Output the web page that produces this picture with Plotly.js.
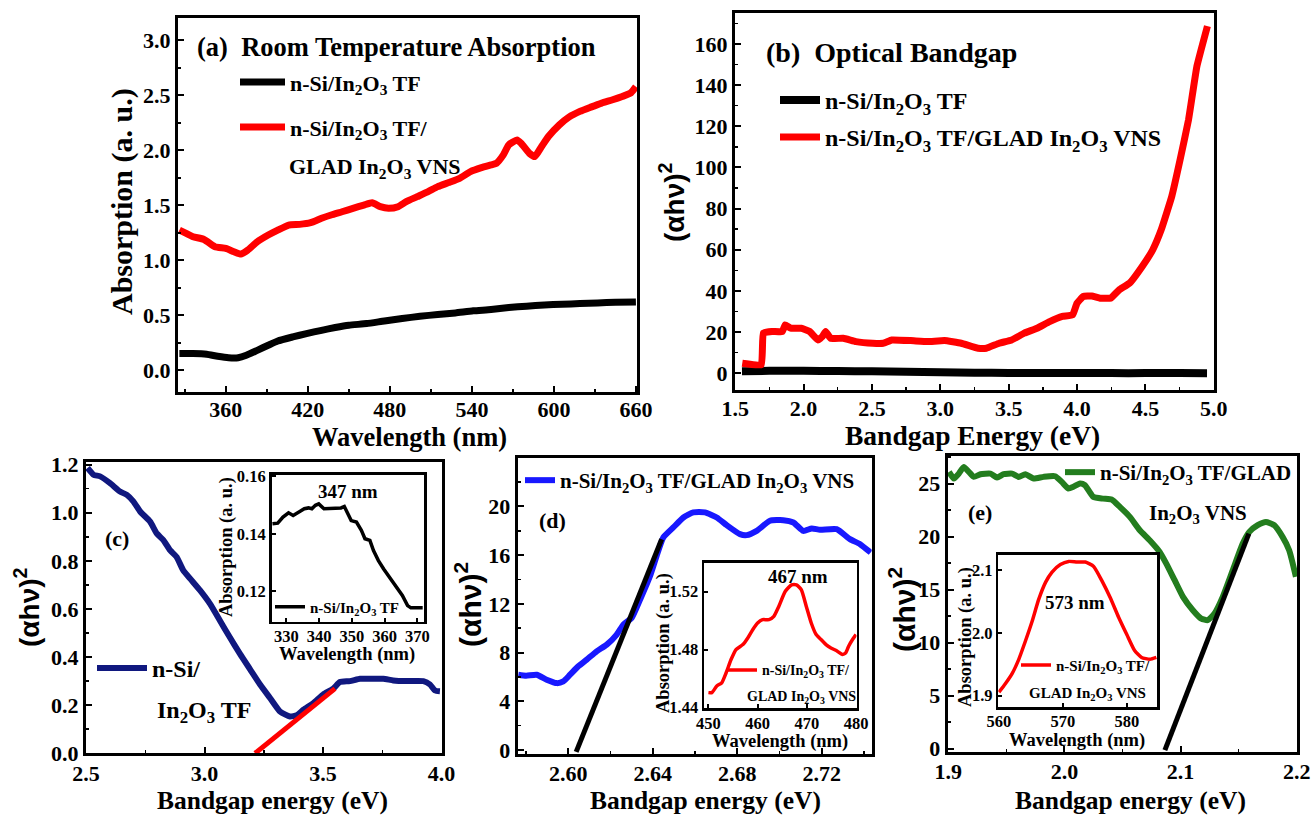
<!DOCTYPE html>
<html><head><meta charset="utf-8">
<script src="https://cdn.plot.ly/plotly-3.0.1.min.js"></script>
<style>html,body{margin:0;padding:0;background:#fff;}#chart{width:1313px;height:816px;}</style>
</head><body><div id="chart"></div>
<script>
// ---------- (a) Room temperature absorption ----------
const aTfWl  = [326,336,346,354,362,369,375,383,391,398,409,419,430,440,450,463,476,489,502,515,528,541,554,567,580,593,606,619,632,645,660];
const aTfAbs = [0.152,0.152,0.146,0.128,0.115,0.115,0.137,0.182,0.228,0.267,0.304,0.334,0.364,0.389,0.41,0.425,0.449,0.471,0.492,0.507,0.522,0.541,0.553,0.571,0.583,0.595,0.601,0.607,0.613,0.619,0.622];
const aVnsWl  = [326,331,336,344,352,360,366,371,376,383,391,398,406,414,422,430,437,445,453,461,467,473,479,486,492,500,508,515,523,531,539,547,554,558,563,567,573,576,582,586,591,596,604,611,619,627,635,643,650,656,660];
const aVnsAbs = [1.275,1.245,1.215,1.19,1.124,1.108,1.078,1.057,1.093,1.169,1.23,1.275,1.321,1.327,1.342,1.382,1.412,1.442,1.473,1.503,1.524,1.488,1.473,1.488,1.534,1.579,1.625,1.670,1.707,1.746,1.807,1.843,1.868,1.883,1.959,2.05,2.095,2.065,1.974,1.944,2.035,2.126,2.232,2.302,2.354,2.393,2.43,2.46,2.49,2.52,2.58];

// ---------- (b) Optical bandgap ----------
const bTfE = [1.55,1.75,2.0,2.25,2.5,2.75,3.0,3.25,3.5,3.75,4.0,4.25,4.5,4.75,4.95];
const bTf  = [1.0,1.2,1.2,1.1,1.0,0.8,0.5,0.3,0.2,0.2,0.2,0.1,0.1,0.1,0.0];
const bVnsE = [1.552,1.691,1.706,1.768,1.845,1.866,1.906,1.983,2.045,2.106,2.137,2.162,2.199,2.291,2.383,2.506,2.583,2.645,2.783,2.907,3.03,3.153,3.276,3.337,3.43,3.522,3.614,3.707,3.799,3.892,3.968,3.999,4.045,4.107,4.169,4.245,4.307,4.384,4.476,4.553,4.615,4.692,4.753,4.815,4.876,4.953];
const bVns  = [4.9,4.1,19.5,20.3,20.3,23.5,21.9,21.9,20.3,16.2,17.8,20.3,17.0,17.0,15.4,14.6,14.6,16.2,15.9,15.4,15.9,14.6,12.2,12.2,14.6,16.2,19.5,21.9,25.1,27.6,28.4,34.0,37.3,37.6,36.5,36.5,40.5,43.8,51.9,60.0,69.7,85.9,103.7,123.2,149.1,168.6];

// ---------- (c) n-Si/In2O3 TF Tauc plot ----------
const cE  = [2.506,2.531,2.559,2.601,2.643,2.672,2.70,2.728,2.77,2.798,2.826,2.854,2.882,2.91,2.939,2.981,3.023,3.065,3.107,3.15,3.192,3.234,3.276,3.318,3.36,3.389,3.417,3.459,3.50,3.543,3.571,3.613,3.656,3.698,3.754,3.796,3.852,3.923,3.951,3.972,3.993];
const cTf = [1.186,1.158,1.151,1.123,1.088,1.074,1.046,1.005,0.963,0.914,0.886,0.844,0.816,0.760,0.726,0.677,0.621,0.551,0.481,0.412,0.349,0.286,0.230,0.174,0.153,0.158,0.181,0.209,0.244,0.269,0.296,0.30,0.310,0.310,0.310,0.303,0.30,0.30,0.286,0.261,0.258];
const cFitE = [3.213,3.55];
const cFit  = [0.0,0.269];
const cInsWl  = [325.8,327.4,329.0,330.7,332.1,333.9,335.5,336.8,337.8,338.9,339.9,341.5,344.1,346.7,347.7,348.8,349.8,351.4,352.9,354.0,355.5,356.6,358.1,359.7,361.8,363.9,365.4,367.0,368.0,371.6];
const cInsAbs = [0.1435,0.1437,0.1458,0.1473,0.1464,0.1478,0.1487,0.1490,0.1487,0.1499,0.1504,0.1487,0.1487,0.1490,0.1495,0.1470,0.1446,0.1441,0.1412,0.1383,0.1377,0.1342,0.1307,0.1278,0.1243,0.1209,0.1186,0.1151,0.1143,0.1143];

// ---------- (d) VNS Tauc plot ----------
const dE   = [2.5763,2.580,2.585,2.5897,2.5945,2.5976,2.6008,2.6047,2.6087,2.6134,2.6182,2.6229,2.6261,2.630,2.634,2.6387,2.6418,2.645,2.6497,2.6545,2.6592,2.6647,2.6703,2.675,2.6813,2.6845,2.6892,2.6955,2.7018,2.7066,2.7113,2.7153,2.7192,2.7271,2.7334,2.7382,2.7432];
const dVns = [6.18,6.10,6.18,5.77,5.49,5.63,6.18,6.87,7.42,8.10,8.65,9.48,10.30,10.85,12.36,14.29,15.93,17.45,18.27,19.09,19.51,19.51,19.09,18.46,17.72,17.64,17.99,18.82,18.87,18.68,17.99,18.19,18.08,18.13,17.31,16.90,16.21];
const dFitE = [2.6037,2.6442];
const dFit  = [-0.15,17.3];
const dInsWl  = [450,450.7,451.7,452.7,453.6,454.6,455.6,457,458,459,460,461,462.3,463.3,464.3,465.6,466.9,467.9,468.9,469.9,470.9,471.9,472.9,473.9,474.9,476.2,477.2,477.9,478.5,479.2,480];
const dInsAbs = [1.4503,1.4503,1.4549,1.4571,1.464,1.4731,1.48,1.4834,1.488,1.4937,1.4983,1.5006,1.5006,1.5029,1.5097,1.52,1.5246,1.5246,1.5211,1.5097,1.4983,1.4903,1.4869,1.4834,1.4811,1.4789,1.4766,1.4777,1.4823,1.4864,1.4903];

// ---------- (e) VNS Tauc plot ----------
const eE   = [1.9006,1.9049,1.9091,1.9134,1.9177,1.922,1.9277,1.9363,1.942,1.9477,1.9549,1.9606,1.9663,1.9734,1.982,1.992,1.9977,2.0034,2.0077,2.0134,2.0177,2.0249,2.0334,2.0406,2.0477,2.0563,2.0649,2.0734,2.082,2.0877,2.0949,2.1021,2.1106,2.1178,2.1234,2.1292,2.1363,2.1449,2.1535,2.1592,2.1664,2.1735,2.1806,2.1878,2.1935,2.1993];
const eVns = [26.1,25.47,25.94,26.57,26.1,25.63,25.88,25.94,25.57,25.88,25.94,25.63,25.88,25.47,25.63,25.69,25.16,24.53,24.69,25.0,24.84,23.74,23.58,23.49,22.80,21.86,20.6,19.65,18.55,17.45,15.88,14.31,13.05,12.26,12.11,12.74,14.31,16.82,19.34,20.44,21.07,21.38,21.07,19.97,18.71,16.2];
const eFitE = [2.0865,2.1588];
const eFit  = [-0.16,20.28];
const eInsWl  = [560,561.0,562.1,563.1,564.1,565.2,566.2,567.3,568.3,569.6,570.9,572.2,573.5,574.8,576.1,577.4,578.7,580,581.2,582.3,583.6,584.6];
const eInsAbs = [1.9056,1.919,1.936,1.958,1.986,2.019,2.053,2.081,2.097,2.109,2.114,2.113,2.113,2.106,2.083,2.056,2.025,1.997,1.972,1.961,1.958,1.961];

// ---------- labels ----------
const TF  = 'n-Si/In<sub>2</sub>O<sub>3</sub> TF';
const VNS = 'n-Si/In<sub>2</sub>O<sub>3</sub> TF/GLAD In<sub>2</sub>O<sub>3</sub> VNS';
const AHV = '(\u03B1h\u03BD)<sup>2</sup>';

// ---------- helpers ----------
const W = 1313, H = 816;
const F = '"Liberation Serif", "Times New Roman", serif';
const FS = '"Liberation Sans", Arial, sans-serif';
const px = (a,b) => [a/W, b/W];
const py = (t,b) => [1-b/H, 1-t/H];
function axis(o){
  const a = {domain:o.dom, range:o.rng, anchor:o.anchor, showline:true, linecolor:'#000', linewidth:o.lw||3, mirror:true,
    ticks:'inside', ticklen:o.tl||6, tickwidth:2, tickcolor:'#000', showgrid:false, zeroline:false,
    tickmode:'linear', tick0:o.t0, dtick:o.dt, tickformat:o.fmt, ticklabelstandoff:o.so||0,
    tickfont:{family:F, size:o.fs, color:'#000', weight:'bold'}, fixedrange:true};
  if (o.mdt) a.minor = {ticks:'inside', ticklen:3, tickwidth:1.5, tickcolor:'#000', dtick:o.mdt, tick0:o.t0, showgrid:false};
  return a;
}
function tr(x,y,xa,ya,color,w,name,leg,shape,sm){
  return {type:'scatter', mode:'lines', x:x, y:y, xaxis:xa, yaxis:ya,
    line:{color:color, width:w, shape:shape||'spline', smoothing:sm||0.5},
    name:name||'', legend:leg||'legend', showlegend:!!name, hoverinfo:'skip'};
}
function leg(L,top,fs,iw){
  return {x:L/W, y:1-top/H, xanchor:'left', yanchor:'top', bgcolor:'rgba(0,0,0,0)', borderwidth:0,
    font:{family:F, size:fs, color:'#000', weight:'bold'}, itemwidth:iw||30, valign:'top', tracegroupgap:0};
}
function ann(text,x,y,fs,o){
  o = o||{};
  return {text:text, x:x/W, y:1-y/H, xref:'paper', yref:'paper', showarrow:false,
    xanchor:o.xa||'center', yanchor:o.ya||'middle', textangle:o.rot||0,
    font:{family:o.fam||F, size:fs, color:'#000', weight:'bold'}};
}

const RED='#ff0000', BLK='#000000', NAVY='#10187f', BLUE='#1818ff', GRN='#237d1e';

const data = [
  tr(aTfWl, aTfAbs, 'x','y', BLK, 7, TF, 'legend'),
  tr(aVnsWl, aVnsAbs, 'x','y', RED, 7, TF+'/', 'legend2'),
  tr(bTfE, bTf, 'x2','y2', BLK, 8, TF, 'legend3'),
  tr(bVnsE, bVns, 'x2','y2', RED, 7, VNS, 'legend4', 'spline', 0.3),
  tr(cE, cTf, 'x3','y3', NAVY, 6, 'n-Si/', 'legend5'),
  tr(cFitE, cFit, 'x3','y3', RED, 5, '', null, 'linear'),
  tr(cInsWl, cInsAbs, 'x4','y4', BLK, 3.5, TF, 'legend6', 'linear'),
  tr(dE, dVns, 'x5','y5', BLUE, 6, VNS, 'legend7'),
  tr(dFitE, dFit, 'x5','y5', BLK, 5, '', null, 'linear'),
  tr(dInsWl, dInsAbs, 'x6','y6', RED, 3.5, TF+'/', 'legend8'),
  tr(eE, eVns, 'x7','y7', GRN, 6, 'n-Si/In<sub>2</sub>O<sub>3</sub> TF/GLAD', 'legend9'),
  tr(eFitE, eFit, 'x7','y7', BLK, 5, '', null, 'linear'),
  tr(eInsWl, eInsAbs, 'x8','y8', RED, 3.5, TF+'/', 'legend10')
];

const layout = {
  width:W, height:H, margin:{l:0,r:0,t:0,b:0}, paper_bgcolor:'#fff', plot_bgcolor:'rgba(0,0,0,0)',
  showlegend:true, hovermode:false,
  // (a)
  xaxis:  axis({dom:px(178,637), rng:[325,660.8], anchor:'y', t0:360, dt:60, mdt:30, fs:22, so:-4}),
  yaxis:  axis({dom:py(18,392), rng:[-0.197,3.2035], anchor:'x', t0:0, dt:0.5, mdt:0.25, fmt:'.1f', fs:22}),
  // (b)
  xaxis2: axis({dom:px(735,1214), rng:[1.499,5.001], anchor:'y2', t0:1.5, dt:0.5, mdt:0.25, fmt:'.1f', fs:22, so:-3}),
  yaxis2: axis({dom:py(13,390), rng:[-8.1,175], anchor:'x2', t0:0, dt:20, mdt:10, fs:22}),
  // (c)
  xaxis3: axis({dom:px(86,441.7), rng:[2.4995,4.0005], anchor:'y3', t0:2.5, dt:0.5, mdt:0.25, fmt:'.1f', fs:22, so:-2}),
  yaxis3: axis({dom:py(461.7,753.3), rng:[0,1.212], anchor:'x3', t0:0, dt:0.2, mdt:0.1, fmt:'.1f', fs:22}),
  // (c) inset
  xaxis4: axis({dom:px(271.5,424), rng:[325.5,372], anchor:'y4', t0:330, dt:10, fs:16.5, tl:4, lw:2.5, so:-2}),
  yaxis4: axis({dom:py(474.5,621.7), rng:[0.1095,0.1606], anchor:'x4', t0:0.12, dt:0.02, fmt:'.2f', fs:16.5, tl:4, lw:2.5}),
  // (d)
  xaxis5: axis({dom:px(517.7,871.7), rng:[2.576,2.7437], anchor:'y5', t0:2.6, dt:0.04, mdt:0.02, fmt:'.2f', fs:22, so:-2}),
  yaxis5: axis({dom:py(458.3,754), rng:[-0.33,23.95], anchor:'x5', t0:0, dt:4, mdt:2, fs:22}),
  // (d) inset
  xaxis6: axis({dom:px(704,856.5), rng:[449.1,480.1], anchor:'y6', t0:450, dt:10, fs:16.5, tl:4, lw:2.5, so:-2}),
  yaxis6: axis({dom:py(562.5,708.3), rng:[1.4395,1.54], anchor:'x6', t0:1.44, dt:0.04, fmt:'.2f', fs:16.5, tl:4, lw:2.5}),
  // (e)
  xaxis7: axis({dom:px(947.7,1297.3), rng:[1.8995,2.2005], anchor:'y7', t0:1.9, dt:0.1, mdt:0.05, fmt:'.1f', fs:22, so:-2}),
  yaxis7: axis({dom:py(456,751.7), rng:[-0.3,27.6], anchor:'x7', t0:0, dt:5, mdt:2.5, fs:22}),
  // (e) inset
  xaxis8: axis({dom:px(998.3,1157), rng:[559.9,584.7], anchor:'y8', t0:560, dt:10, fs:16.5, tl:4, lw:2.5, so:-2}),
  yaxis8: axis({dom:py(554.5,707), rng:[1.882,2.125], anchor:'x8', t0:1.9, dt:0.1, fmt:'.1f', fs:16.5, tl:4, lw:2.5}),

  legend:   leg(235, 61.2, 22, 45),
  legend2:  leg(235, 106.2, 22, 45),
  legend3:  leg(775, 78, 24, 40),
  legend4:  leg(775, 115, 24, 40),
  legend5:  leg(92, 646, 24, 50),
  legend6:  leg(270, 590.5, 15, 30),
  legend7:  leg(520, 460, 21, 30),
  legend8:  leg(722, 654.4, 14, 30),
  legend9:  leg(1060, 452, 21, 30),
  legend10: leg(1016, 648.75, 15, 30),

  annotations: [
    ann('(a)\u00a0\u00a0Room Temperature Absorption', 195, 47, 26.5, {xa:'left'}),
    ann('GLAD In<sub>2</sub>O<sub>3</sub> VNS', 375, 168, 22),
    ann('Absorption (a. u.)', 122, 202, 30, {rot:-90}),
    ann('Wavelength (nm)', 409, 437, 26.5),

    ann('(b)\u00a0\u00a0Optical Bandgap', 764, 52, 28, {xa:'left'}),
    ann(AHV, 672, 202, 28, {rot:-90, fam:FS}),
    ann('Bandgap Energy (eV)', 973, 435, 27.5),

    ann('(c)', 117, 538, 22),
    ann('In<sub>2</sub>O<sub>3</sub> TF', 155, 712, 24, {xa:'left'}),
    ann(AHV, 27, 607, 28, {rot:-90, fam:FS}),
    ann('Bandgap energy (eV)', 272, 800, 25.5),
    ann('347 nm', 348, 491, 19),
    ann('Absorption (a. u.)', 226, 547, 18.5, {rot:-90}),
    ann('Wavelength (nm)', 347, 654, 18.5),

    ann('(d)', 552, 520, 22),
    ann(AHV, 468, 605, 30, {rot:-90, fam:FS}),
    ann('Bandgap energy (eV)', 705, 800, 25.5),
    ann('467 nm', 798, 576, 19),
    ann('GLAD In<sub>2</sub>O<sub>3</sub> VNS', 801, 697, 14),
    ann('Absorption (a. u.)', 663, 643, 18.5, {rot:-90}),
    ann('Wavelength (nm)', 780, 741, 18.5),

    ann('(e)', 980, 512, 22),
    ann('In<sub>2</sub>O<sub>3</sub> VNS', 1198, 514, 21),
    ann(AHV, 902, 610, 30, {rot:-90, fam:FS}),
    ann('Bandgap energy (eV)', 1130, 800, 25.5),
    ann('573 nm', 1075, 602, 19),
    ann('GLAD In<sub>2</sub>O<sub>3</sub> VNS', 1087, 694, 15),
    ann('Absorption (a. u.)', 965, 637, 18.5, {rot:-90}),
    ann('Wavelength (nm)', 1077, 740, 18.5)
  ]
};

Plotly.newPlot('chart', data, layout, {staticPlot:true, displayModeBar:false});
</script>
</body></html>
